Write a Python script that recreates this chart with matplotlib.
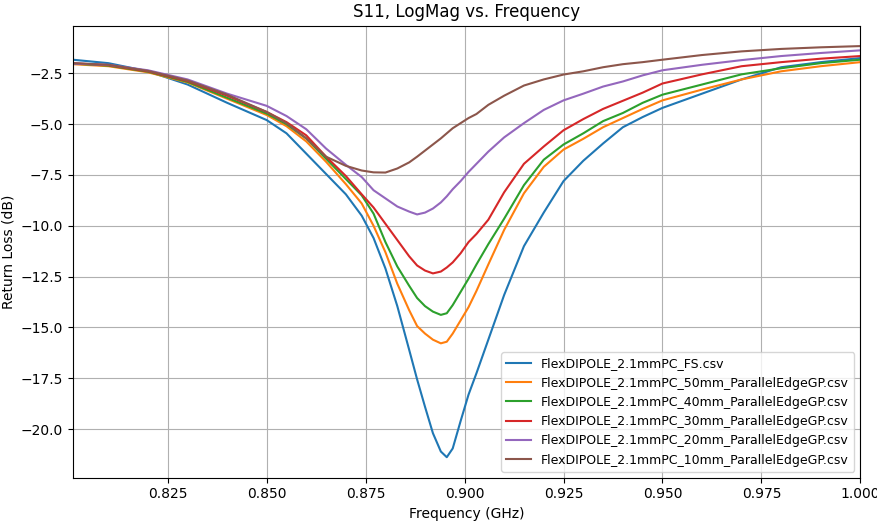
import numpy as np
import matplotlib
matplotlib.use("Agg")
import matplotlib.pyplot as plt

# frequency points (GHz)
freq = [0.801, 0.810, 0.820, 0.830, 0.840, 0.850, 0.855, 0.860, 0.865, 0.870,
        0.874, 0.877, 0.880, 0.883, 0.886, 0.888, 0.890, 0.892, 0.894, 0.8955,
        0.897, 0.899, 0.901, 0.903, 0.906, 0.910, 0.915, 0.920, 0.925, 0.930,
        0.935, 0.940, 0.945, 0.950, 0.960, 0.970, 0.980, 0.990, 1.000]

s11_fs = [-1.83, -2.00, -2.40, -3.05, -3.95, -4.80, -5.45, -6.45, -7.45, -8.45,
          -9.50, -10.60, -12.10, -13.95, -16.10, -17.55, -18.90, -20.20, -21.10, -21.38,
          -20.95, -19.60, -18.30, -17.25, -15.60, -13.40, -11.00, -9.35, -7.80, -6.80,
          -5.95, -5.15, -4.65, -4.20, -3.50, -2.80, -2.20, -1.95, -1.75]

s11_50mm = [-2.05, -2.15, -2.45, -2.95, -3.75, -4.55, -5.10, -5.85, -6.85, -7.95,
            -8.90, -10.00, -11.30, -12.85, -14.15, -14.93, -15.30, -15.60, -15.78, -15.70,
            -15.30, -14.65, -14.00, -13.20, -11.90, -10.20, -8.40, -7.10, -6.25, -5.72,
            -5.15, -4.70, -4.25, -3.83, -3.30, -2.80, -2.40, -2.15, -1.95]

s11_40mm = [-2.02, -2.12, -2.42, -2.92, -3.70, -4.48, -5.00, -5.70, -6.70, -7.70,
            -8.50, -9.40, -10.80, -12.00, -12.95, -13.55, -13.95, -14.22, -14.38, -14.30,
            -13.90, -13.25, -12.60, -11.90, -10.90, -9.65, -8.00, -6.75, -6.00, -5.45,
            -4.85, -4.45, -3.95, -3.55, -3.05, -2.55, -2.25, -2.00, -1.83]

s11_30mm = [-2.00, -2.10, -2.40, -2.88, -3.60, -4.40, -4.90, -5.55, -6.60, -7.55,
            -8.45, -9.10, -9.90, -10.70, -11.50, -11.95, -12.20, -12.34, -12.25, -12.05,
            -11.80, -11.35, -10.80, -10.40, -9.70, -8.35, -6.95, -6.10, -5.30, -4.75,
            -4.25, -3.85, -3.45, -3.00, -2.55, -2.15, -1.95, -1.78, -1.65]

s11_20mm = [-2.02, -2.08, -2.35, -2.80, -3.50, -4.10, -4.60, -5.25, -6.20, -7.00,
            -7.60, -8.25, -8.65, -9.05, -9.30, -9.44, -9.35, -9.15, -8.85, -8.55,
            -8.20, -7.80, -7.35, -6.95, -6.35, -5.65, -4.95, -4.30, -3.83, -3.50,
            -3.15, -2.90, -2.60, -2.35, -2.08, -1.85, -1.65, -1.50, -1.37]

s11_10mm = [-2.00, -2.08, -2.38, -2.85, -3.55, -4.40, -4.95, -5.70, -6.60, -7.05,
            -7.28, -7.37, -7.38, -7.18, -6.88, -6.60, -6.30, -6.00, -5.70, -5.45,
            -5.20, -4.95, -4.70, -4.50, -4.05, -3.60, -3.10, -2.80, -2.56, -2.40,
            -2.20, -2.05, -1.95, -1.83, -1.60, -1.42, -1.30, -1.22, -1.16]

names = ["FlexDIPOLE_2.1mmPC_FS.csv",
         "FlexDIPOLE_2.1mmPC_50mm_ParallelEdgeGP.csv",
         "FlexDIPOLE_2.1mmPC_40mm_ParallelEdgeGP.csv",
         "FlexDIPOLE_2.1mmPC_30mm_ParallelEdgeGP.csv",
         "FlexDIPOLE_2.1mmPC_20mm_ParallelEdgeGP.csv",
         "FlexDIPOLE_2.1mmPC_10mm_ParallelEdgeGP.csv"]

series = [s11_fs, s11_50mm, s11_40mm, s11_30mm, s11_20mm, s11_10mm]

fig, ax = plt.subplots(figsize=(8.77, 5.21), dpi=100)
fig.subplots_adjust(left=0.083, right=0.981, bottom=0.083, top=0.951)

for vals, nm in zip(series, names):
    ax.plot(freq, vals, label=nm)

ax.set_xlim(freq[0], freq[-1])
ax.set_title("S11, LogMag vs. Frequency")
ax.set_xlabel("Frequency (GHz)")
ax.set_ylabel("Return Loss (dB)")
ax.grid(True)
ax.legend(loc="lower right", fontsize=9)

fig.savefig("out.png")
